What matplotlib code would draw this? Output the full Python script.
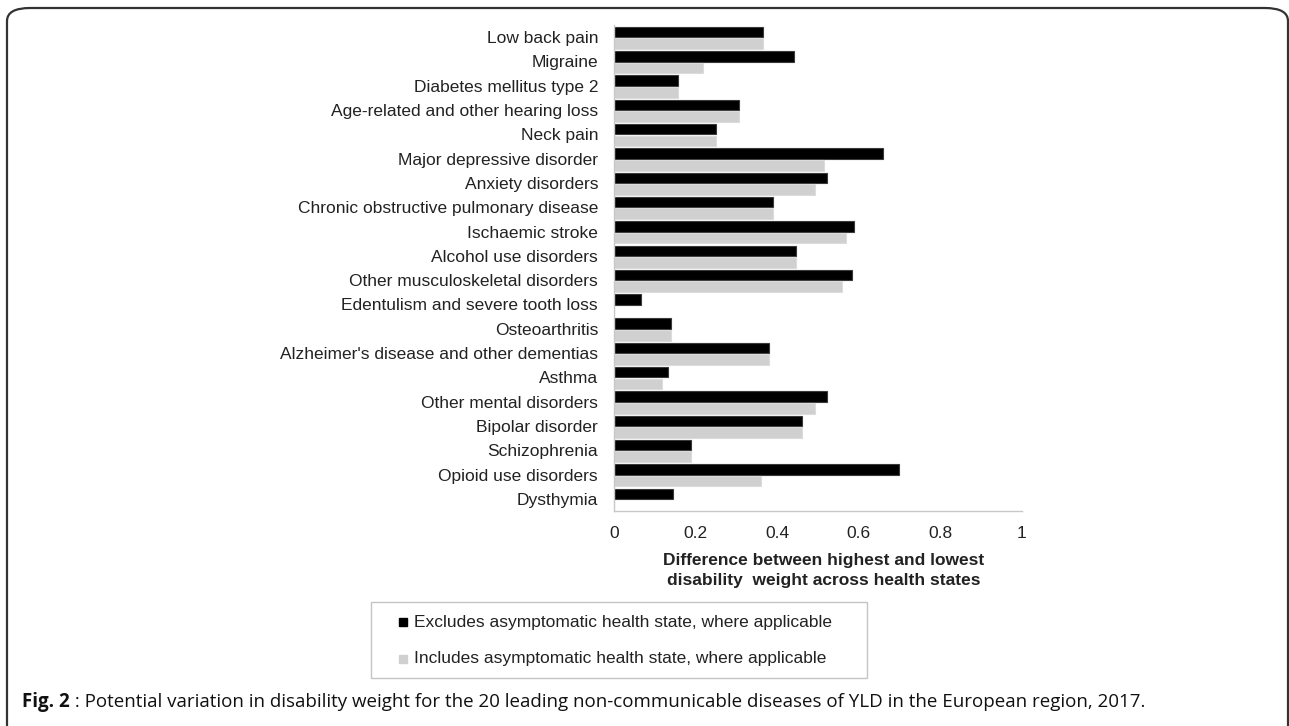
import matplotlib
matplotlib.use("Agg")
import matplotlib.pyplot as plt
from matplotlib.patches import Rectangle, FancyBboxPatch
import numpy as np

W, H = 1289, 726

diseases = [
    "Low back pain",
    "Migraine",
    "Diabetes mellitus type 2",
    "Age-related and other hearing loss",
    "Neck pain",
    "Major depressive disorder",
    "Anxiety disorders",
    "Chronic obstructive pulmonary disease",
    "Ischaemic stroke",
    "Alcohol use disorders",
    "Other musculoskeletal disorders",
    "Edentulism and severe tooth loss",
    "Osteoarthritis",
    "Alzheimer's disease and other dementias",
    "Asthma",
    "Other mental disorders",
    "Bipolar disorder",
    "Schizophrenia",
    "Opioid use disorders",
    "Dysthymia",
]
excludes = [0.365, 0.441, 0.157, 0.307, 0.250, 0.660, 0.523, 0.389, 0.588, 0.447,
            0.583, 0.066, 0.140, 0.381, 0.132, 0.523, 0.460, 0.189, 0.698, 0.145]
includes = [0.365, 0.217, 0.157, 0.306, 0.250, 0.515, 0.493, 0.389, 0.569, 0.447,
            0.559, 0.0, 0.140, 0.381, 0.118, 0.493, 0.460, 0.189, 0.361, 0.0]
xticks = [0, 0.2, 0.4, 0.6, 0.8, 1]
xtick_labels = ["0", "0.2", "0.4", "0.6", "0.8", "1"]

legend_labels = [
    "Excludes asymptomatic health state, where applicable",
    "Includes asymptomatic health state, where applicable",
]
caption_bold = "Fig. 2"
caption_rest = (" : Potential variation in disability weight for the 20 leading "
                "non-communicable diseases of YLD in the European region, 2017.")

plt.rcParams["font.family"] = ["Liberation Sans", "DejaVu Sans"]
TXT = "#222222"
BLACK = "#000000"
GREY = "#d0d0d0"
FS = 12.5


def fx(px):
    return px / W


def fy(py):
    return 1 - py / H


fig = plt.figure(figsize=(W / 100, H / 100), dpi=100)
ax = fig.add_axes([fx(614), fy(511), fx(1022) - fx(614), fy(25) - fy(511)])

y = np.arange(len(diseases))
ax.barh(y - 0.21, excludes, height=0.43, color=BLACK, edgecolor="#3a3a3a", linewidth=0.8)
ax.barh(y + 0.27, includes, height=0.44, color=GREY, edgecolor="#dcdcdc", linewidth=0.8)

ax.set_ylim(len(diseases) - 0.5, -0.5)
ax.set_xlim(0, 1)
ax.set_yticks(y)
ax.set_yticklabels(diseases, fontsize=FS, color=TXT)
ax.set_xticks(xticks)
ax.set_xticklabels(xtick_labels, fontsize=FS, color=TXT)
ax.tick_params(axis="both", length=0)
ax.tick_params(axis="y", pad=11.5)
ax.tick_params(axis="x", pad=11)
for s in ["top", "right"]:
    ax.spines[s].set_visible(False)
for s in ["left", "bottom"]:
    ax.spines[s].set_color("#c8c8c8")
    ax.spines[s].set_linewidth(1.0)

fig.text(fx(824), fy(561), "Difference between highest and lowest", fontsize=FS,
         fontweight="bold", ha="center", va="center", color=TXT)
fig.text(fx(824), fy(580), "disability  weight across health states", fontsize=FS,
         fontweight="bold", ha="center", va="center", color=TXT)

# legend box
fig.patches.append(Rectangle((fx(371), fy(678)), fx(867) - fx(371), fy(602) - fy(678),
                             transform=fig.transFigure, fill=False,
                             edgecolor="#c4c4c4", linewidth=1.0))
for lab, col, py in zip(legend_labels, [BLACK, GREY], [622, 659]):
    fig.patches.append(Rectangle((fx(399), fy(py + 4)), fx(8), 8 / H,
                                 transform=fig.transFigure, color=col))
    fig.text(fx(414), fy(py), lab, fontsize=FS, ha="left", va="center", color=TXT)

# caption
t1 = fig.text(fx(22), fy(702), caption_bold, fontsize=13.5, fontweight="bold",
              family=["Open Sans", "DejaVu Sans"], ha="left", va="center", color="#111111")
ax.annotate(caption_rest, xy=(1, 0.5), xycoords=t1, ha="left", va="center",
            fontsize=13.5, family=["Open Sans", "DejaVu Sans"], color="#111111",
            annotation_clip=False)

# rounded outer frame
frame = FancyBboxPatch((fx(7), fy(740)), fx(1288) - fx(7), (740 - 8) / H,
                       boxstyle="round,pad=0,rounding_size=0.018",
                       transform=fig.transFigure, fill=False,
                       edgecolor="#333333", linewidth=1.6, clip_on=False)
fig.patches.append(frame)

fig.savefig("out.png", dpi=100)
